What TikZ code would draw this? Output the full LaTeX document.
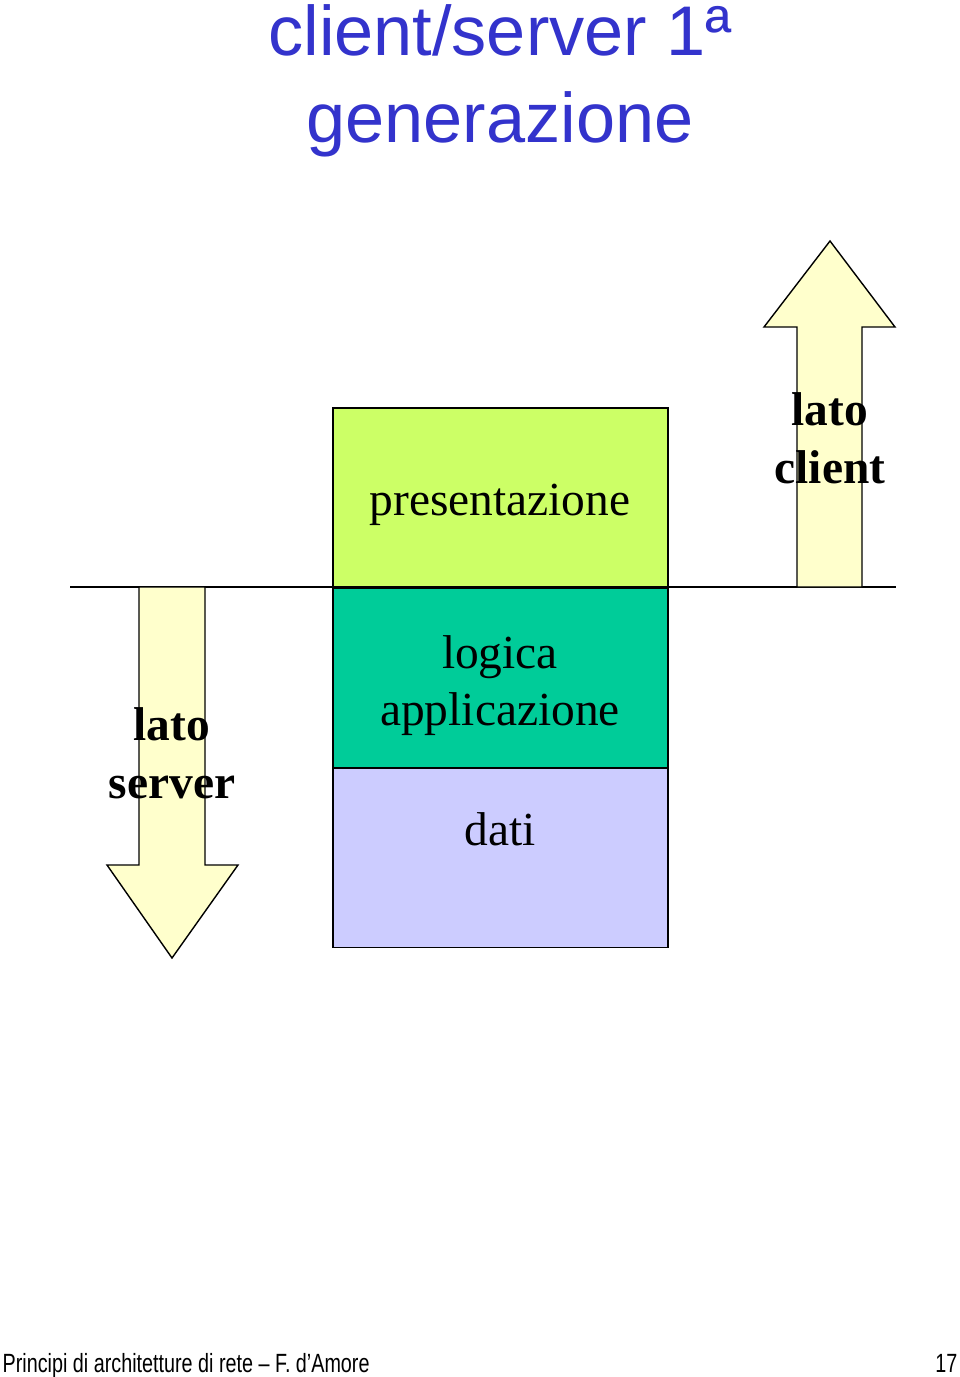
\documentclass[tikz,border=0pt]{standalone}
\usepackage{fontspec}
\setmainfont{Liberation Serif}
\setsansfont{Liberation Sans}
\newfontfamily\narrowsans[FakeStretch=0.75]{Liberation Sans}
\usetikzlibrary{positioning}
\definecolor{TitleBlue}{RGB}{51,51,204}
\definecolor{PresGreen}{RGB}{204,255,102}
\definecolor{LogicGreen}{RGB}{0,204,153}
\definecolor{DataLilac}{RGB}{204,204,255}
\definecolor{ArrowYellow}{RGB}{255,255,204}

\begin{document}
\begin{tikzpicture}[x=0.02cm, y=-0.02cm, line width=0.8pt,
    layer/.style={draw, minimum width=6.7cm, minimum height=3.58cm, inner sep=0pt},
    layertext/.style={font=\fontsize{27}{32.3}\selectfont, align=center, inner sep=0pt},
    sidetext/.style={font=\fontsize{27}{33}\selectfont\bfseries, align=center, inner sep=0pt},
    sidearrow/.style={draw, fill=ArrowYellow, line join=miter}]
  \fill[white] (0,0) rectangle (960,1377);
  \useasboundingbox (0,0) rectangle (960,1377);

  % title
  \node[font=\fontsize{40}{49.3}\selectfont\sffamily, text=TitleBlue, align=center, anchor=base, inner sep=0pt] (title) at (500,142) {client/server 1ª\\generazione};

  % client / server split
  \coordinate (lineL) at (70,587);
  \coordinate (lineR) at (896,587);
  \draw (lineL) -- (lineR);

  % arrows
  \draw[sidearrow] (797,587) -- (797,327) -- (764,327) -- (830,241) -- (895,327) -- (862,327) -- (862,587) -- cycle;
  \draw[sidearrow] (139,587) -- (139,865) -- (107,865) -- (172,958) -- (238,865) -- (205,865) -- (205,587) -- cycle;

  % layers
  \node[layer, fill=PresGreen] (pres) at (500.5,497.5) {};
  \node[layer, fill=LogicGreen, below=0cm of pres] (logic) {};
  \node[layer, fill=DataLilac, below=0cm of logic] (data) {};

  \node[layertext, anchor=base] (presT) at (500,515) {presentazione};
  \node[layertext, anchor=base] (logicT) at (500,725) {logica\\applicazione};
  \node[layertext, anchor=base] (dataT) at (500,845) {dati};

  \node[sidetext, anchor=base] (clientT) at (830,483) {lato\\client};
  \node[sidetext, anchor=base] (serverT) at (172,798) {lato\\server};

  % footer
  \node[font=\narrowsans\fontsize{15}{18}\selectfont, anchor=base west, inner sep=0pt] (footer) at (2,1372) {Principi di architetture di rete – F. d’Amore};
  \node[font=\narrowsans\fontsize{15}{18}\selectfont, anchor=base east, inner sep=0pt] (pageno) at (958,1372) {17};
\end{tikzpicture}
\end{document}
